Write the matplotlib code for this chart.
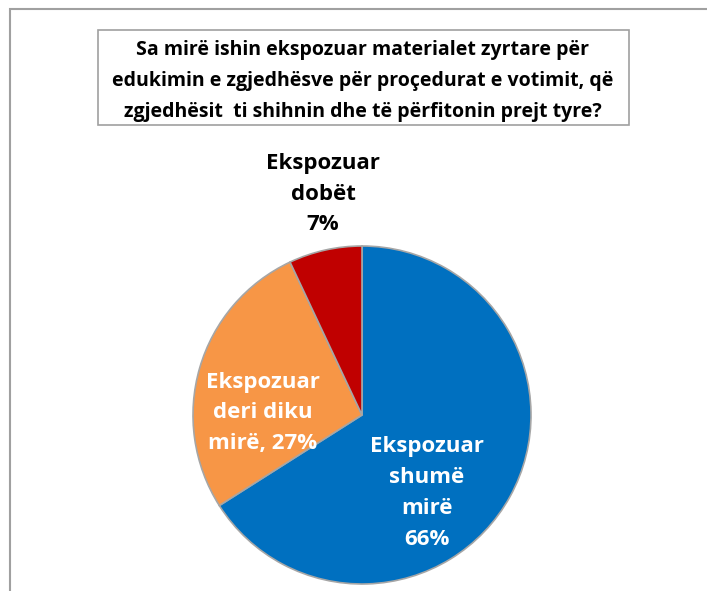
import matplotlib
matplotlib.use("Agg")
import matplotlib.pyplot as plt
from matplotlib.patches import Rectangle

labels = ["Ekspozuar\nshumë\nmirë\n66%", "Ekspozuar\nderi diku\nmirë, 27%", "Ekspozuar\ndobët\n7%"]
values = [66, 27, 7]
colors = ["#0070C0", "#F79646", "#C00000"]
label_colors = ["white", "white", "black"]
title = ("Sa mirë ishin ekspozuar materialet zyrtare për\n"
         "edukimin e zgjedhësve për proçedurat e votimit, që\n"
         "zgjedhësit  ti shihnin dhe të përfitonin prejt tyre?")

plt.rcParams["font.family"] = ["Open Sans", "DejaVu Sans"]

W, H = 707, 591
fig = plt.figure(figsize=(W / 100, H / 100), dpi=100)

# outer chart frame (cut at right and bottom)
fig.patches.append(Rectangle((10 / W, -0.1), 1.2, (H - 9) / H + 0.1, transform=fig.transFigure,
                             fill=False, edgecolor="#A0A0A0", linewidth=1.5))

# title box
fig.patches.append(Rectangle((98 / W, (H - 125) / H), (629 - 98) / W, 95 / H, transform=fig.transFigure,
                             fill=False, edgecolor="#A0A0A0", linewidth=1.2))
fig.text(363 / W, (H - 81) / H, title, ha="center", va="center", fontsize=14,
         fontweight="bold", linespacing=1.75, color="black")

cx, cy, r = 362, 415, 169
ax = fig.add_axes([(cx - r) / W, (H - cy - r) / H, 2 * r / W, 2 * r / H])
ax.pie(values, colors=colors, startangle=90, counterclock=False, radius=1,
       wedgeprops=dict(edgecolor="#A6A6A6", linewidth=1.2))
ax.set_xlim(-1, 1)
ax.set_ylim(-1, 1)
ax.set_aspect("equal")
ax.axis("off")

# label positions in pixels
label_px = [(427, 493), (263, 413), (323, 194)]
for lab, c, (px, py) in zip(labels, label_colors, label_px):
    ax.text((px - cx) / r, (cy - py) / r, lab, ha="center", va="center", fontsize=16,
            fontweight="bold", color=c, linespacing=1.62)

fig.savefig("out.png", dpi=100)
